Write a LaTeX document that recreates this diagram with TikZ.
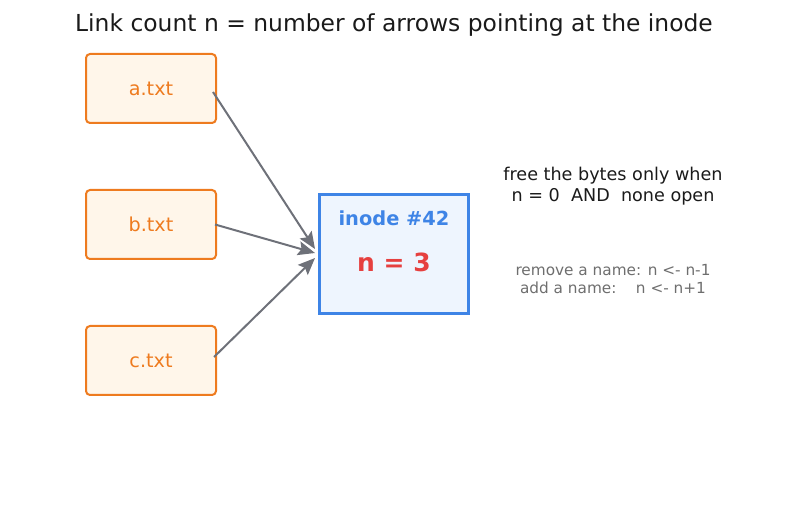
\documentclass[tikz,border=0pt]{standalone}
\usepackage{fontspec}
\setmainfont{DejaVu Sans}
\usetikzlibrary{arrows.meta}

\definecolor{fileedge}{HTML}{EE7B1F}
\definecolor{filefill}{HTML}{FFF6EA}
\definecolor{inodeedge}{HTML}{3E84E6}
\definecolor{inodefill}{HTML}{EEF5FE}
\definecolor{countred}{HTML}{E6403F}
\definecolor{linkgray}{HTML}{6E7179}
\definecolor{notegray}{HTML}{6E6E6E}
\definecolor{titleink}{HTML}{1A1A1A}

\begin{document}
\begin{tikzpicture}[x=1pt, y=-1pt,
  filebox/.style={draw=fileedge, fill=filefill, line width=2pt, rounded corners=4pt,
    minimum width=130pt, minimum height=69pt, inner sep=0pt, text=fileedge,
    font=\fontsize{19.2}{23}\selectfont},
  inodebox/.style={draw=inodeedge, fill=inodefill, line width=3pt,
    minimum width=149pt, minimum height=119pt, inner sep=0pt},
  link/.style={draw=linkgray, line width=2pt, -{Stealth[length=17pt, width=14pt, inset=3pt]}}]
\useasboundingbox (0,0) rectangle (787,510);

\node[text=titleink] (title) at (394,25) {\fontsize{23.4}{28}\selectfont Link count n = number of arrows pointing at the inode};

\node[filebox] (fileA) at (151,88.5) {a.txt};
\node[filebox] (fileB) at (151,224.5) {b.txt};
\node[filebox] (fileC) at (151,360.5) {c.txt};

\node[inodebox] (inode) at (394,254) {};
\node[text=inodeedge, font=\fontsize{19.4}{23}\selectfont\bfseries] (inodeName) at (394,218) {inode \#42};
\node[text=countred, font=\fontsize{25}{30}\selectfont\bfseries] (linkCount) at (394,262) {n = 3};

\draw[link] ([xshift=-4pt,yshift=-3.5pt]fileA.east) -- ([xshift=-3pt,yshift=5pt]inode.west);
\draw[link] ([xshift=-2pt]fileB.east) -- ([xshift=-3pt,yshift=1pt]inode.west);
\draw[link] ([xshift=-3pt,yshift=3.5pt]fileC.east) -- ([xshift=-3pt,yshift=-4pt]inode.west);

\node[align=center, text=titleink, font=\fontsize{17.6}{21}\selectfont] (freeNote) at (613,186.5) {free the bytes only when\\n = 0\ \ AND\ \ none open};
\node[align=center, text=notegray, font=\fontsize{15.3}{18}\selectfont] (opsNote) at (613,279) {remove a name: n <- n-1\\add a name:\ \ \ \ n <- n+1};
\end{tikzpicture}
\end{document}
